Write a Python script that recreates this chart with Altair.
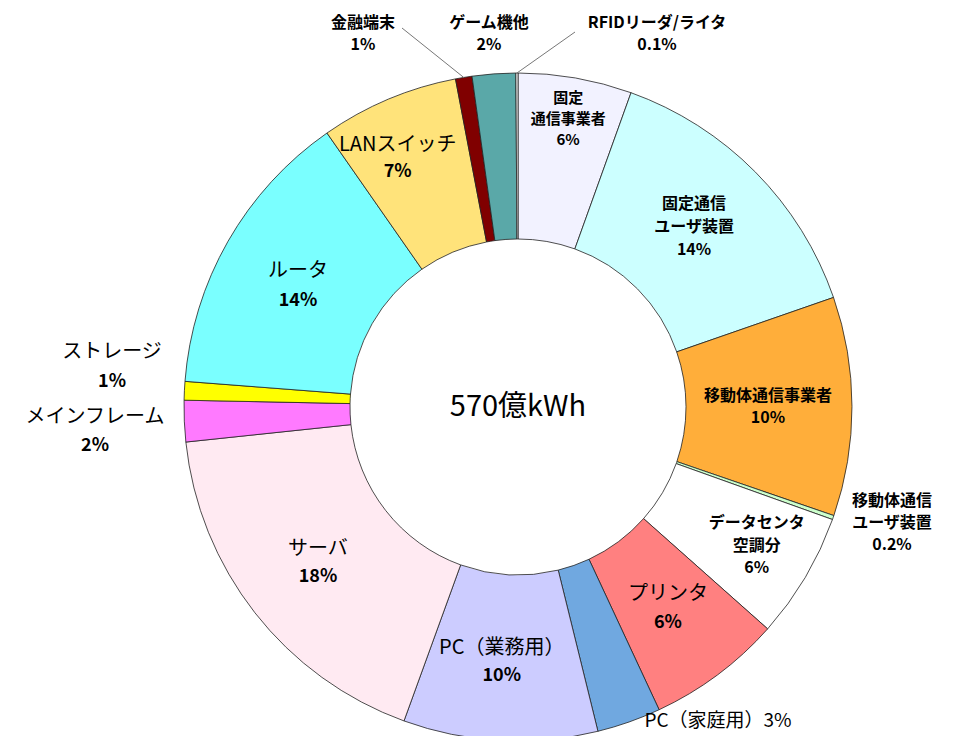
import math
import altair as alt
import pandas as pd

# ---------------- data ----------------
categories = ["固定通信事業者", "固定通信ユーザ装置", "移動体通信事業者", "移動体通信ユーザ装置",
              "データセンタ空調分", "プリンタ", "PC（家庭用）", "PC（業務用）", "サーバ",
              "メインフレーム", "ストレージ", "ルータ", "LANスイッチ", "金融端末",
              "ゲーム機他", "RFIDリーダ/ライタ"]
values = [5.5, 14.2, 10.6, 0.2, 6.1, 6.5, 3.1, 9.4, 17.8, 2.0, 0.9, 14.1, 6.7, 0.8, 2.1, 0.1]
pct_labels = ["6%", "14%", "10%", "0.2%", "6%", "6%", "3%", "10%", "18%",
              "2%", "1%", "14%", "7%", "1%", "2%", "0.1%"]
total_label = "570億kWh"

# ---------------- styles / layout ----------------
colors = ["#F2F2FF", "#CCFFFF", "#FFAE3A", "#CCFFCC", "#FFFFFF", "#FF8080", "#70A8E0",
          "#CCCCFF", "#FFEAF2", "#FF7AFF", "#FFFF00", "#7AFFFF", "#FFE37A", "#800000",
          "#5AA8A8", "#FFFFFF"]
FONT = "Noto Sans CJK JP"
CX, CY = 510, 399          # centre of ring in plot coords
R_IN, R_OUT = 168, 334

# label layout: name lines, style, placement, line spacing
# placement ("polar", radius, angle nudge in deg) or ("fixed", x_page, y_page)
label_layout = {
    "固定通信事業者": (["固定", "通信事業者"], "small", ("polar", 292, 0), 21),
    "固定通信ユーザ装置": (["固定通信", "ユーザ装置"], "small", ("polar", 252, -1), 23),
    "移動体通信事業者": (["移動体通信事業者"], "small", ("polar", 250, 0), 22),
    "移動体通信ユーザ装置": (["移動体通信", "ユーザ装置"], "small", ("fixed", 892, 523), 22),
    "データセンタ空調分": (["データセンタ", "空調分"], "small", ("polar", 276, -0.5), 22.5),
    "プリンタ": (["プリンタ"], "big", ("polar", 251, 0), 29),
    "PC（家庭用）": (["PC（家庭用）3%"], "single", ("fixed", 718, 721), 29),
    "PC（業務用）": (["PC（業務用）"], "big", ("polar", 256, 0.6), 28),
    "サーバ": (["サーバ"], "big", ("polar", 254, 0), 28),
    "メインフレーム": (["メインフレーム"], "big", ("fixed", 95, 431), 29),
    "ストレージ": (["ストレージ"], "big", ("fixed", 112, 367), 30),
    "ルータ": (["ルータ"], "big", ("polar", 251, -1), 30),
    "LANスイッチ": (["LANスイッチ"], "big", ("polar", 276, -3), 27),
    "金融端末": (["金融端末"], "small", ("fixed", 363, 34), 22),
    "ゲーム機他": (["ゲーム機他"], "small", ("fixed", 489, 34), 22),
    "RFIDリーダ/ライタ": (["RFIDリーダ/ライタ"], "small", ("fixed", 657, 34), 22),
}
leaders = {"金融端末": (402, 28), "RFIDリーダ/ライタ": (575, 32)}

# ---------------- derived geometry ----------------
total = sum(values)
cum = 0.0
mids = {}
for c, v in zip(categories, values):
    mids[c] = (cum + v / 2) / total * 360.0
    cum += v


def polar(angle_deg, r):
    a = math.radians(angle_deg)
    return CX + r * math.sin(a), CY - r * math.cos(a)


rows = []
for c, p in zip(categories, pct_labels):
    lines, style, place, spacing = label_layout[c]
    if place[0] == "polar":
        bx, by = polar(mids[c] + place[2], place[1])
    else:
        bx, by = place[1] - 8, place[2] - 8
    if style == "single":
        items = [(lines[0], 19, False)]
    elif style == "big":
        items = [(l, 20, False) for l in lines] + [(p, 18, True)]
    else:
        fs = 15 if spacing < 22 else 16
        items = [(l, fs, True) for l in lines] + [(p, fs, True)]
    n = len(items)
    for i, (t, s, b) in enumerate(items):
        rows.append({"x": bx, "y": by + (i - (n - 1) / 2) * spacing, "t": t, "s": s, "b": b})
labels_df = pd.DataFrame(rows)

lead_rows = []
for c, (lx, ly) in leaders.items():
    ex, ey = polar(mids[c], R_OUT)
    lead_rows.append({"x": lx - 8, "y": ly - 8, "x2": ex, "y2": ey})
lead_df = pd.DataFrame(lead_rows)

df = pd.DataFrame({"cat": categories, "value": values, "idx": list(range(len(values)))})

# ---------------- chart ----------------
arcs = alt.Chart(df).mark_arc(innerRadius=R_IN, outerRadius=R_OUT, stroke="#222222",
                              strokeWidth=0.8).encode(
    theta=alt.Theta("value:Q", stack=True),
    color=alt.Color("cat:N", scale=alt.Scale(domain=categories, range=colors), legend=None),
    order=alt.Order("idx:Q"),
    x=alt.value(CX), y=alt.value(CY),
)

lines_layer = alt.Chart(lead_df).mark_rule(color="#777777", strokeWidth=1).encode(
    x=alt.X("x:Q", scale=None), y=alt.Y("y:Q", scale=None),
    x2="x2:Q", y2="y2:Q",
)


def text_layer(bold):
    sub = labels_df[labels_df["b"] == bold]
    return alt.Chart(sub).mark_text(align="center", baseline="middle", font=FONT,
                                    fontWeight="bold" if bold else "normal",
                                    color="#000000").encode(
        x=alt.X("x:Q", scale=None), y=alt.Y("y:Q", scale=None),
        text="t:N", size=alt.Size("s:Q", scale=None),
    )


center_text = alt.Chart(pd.DataFrame({"t": [total_label]})).mark_text(
    align="center", baseline="middle", font=FONT, fontSize=29, color="#000000"
).encode(text="t:N", x=alt.value(CX), y=alt.value(CY))

chart = alt.layer(arcs, lines_layer, text_layer(False), text_layer(True), center_text).properties(
    width=939, height=728, padding=0, autosize="none"
).configure_view(strokeWidth=0)

chart.save("out.html", embed_options={"renderer": "svg", "actions": False})
